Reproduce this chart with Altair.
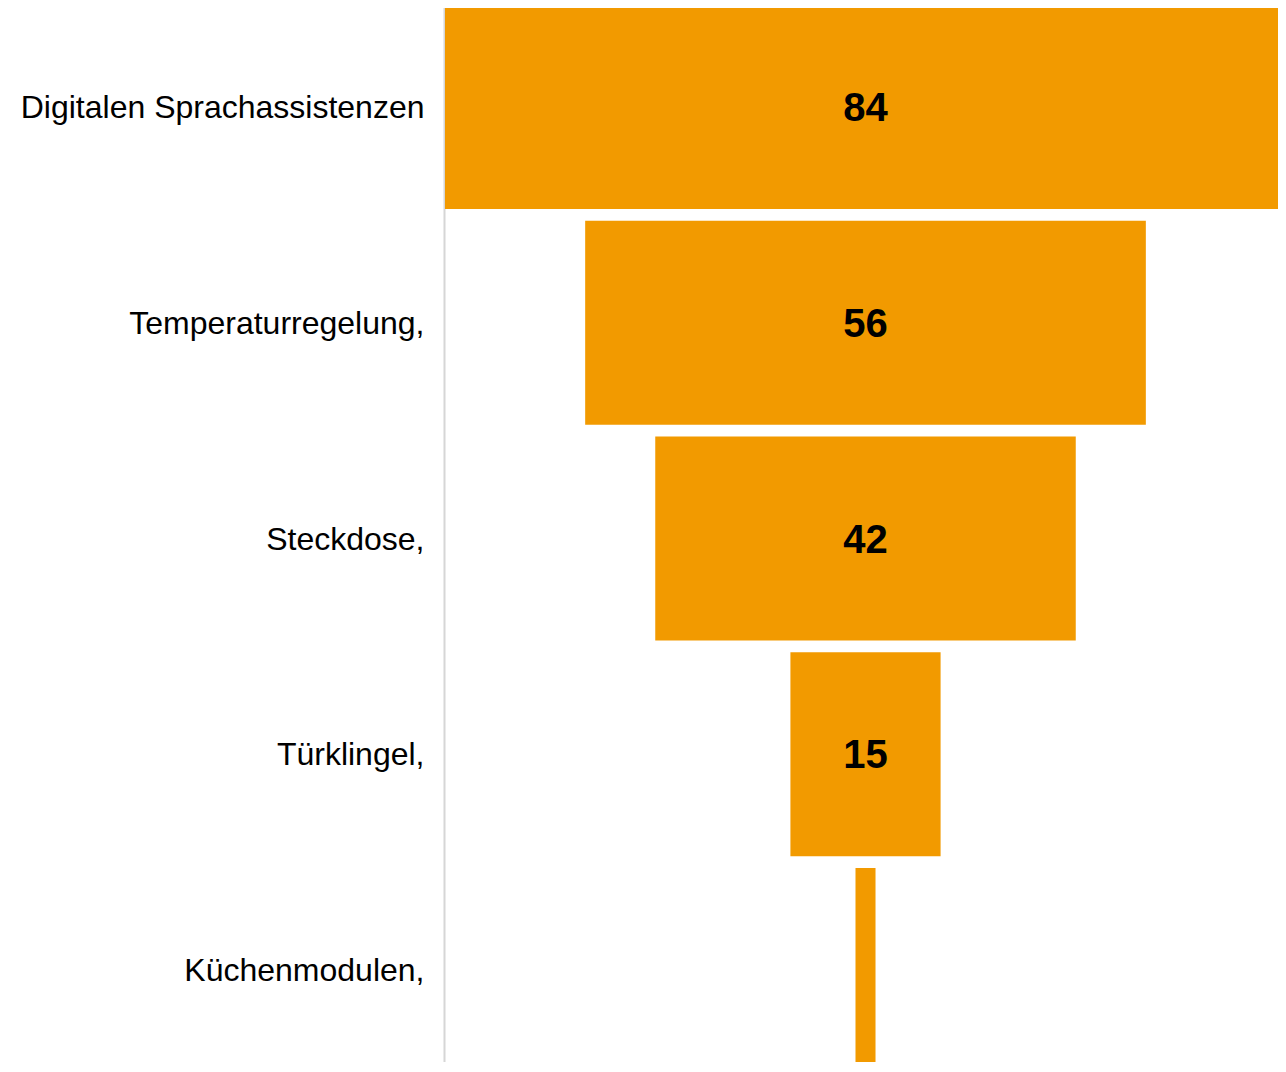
import altair as alt
import pandas as pd

categories = ["Digitalen Sprachassistenzen", "Temperaturregelung,", "Steckdose,", "Türklingel,", "Küchenmodulen,"]
values = [84, 56, 42, 15, 2]

df = pd.DataFrame({"category": categories, "value": values})
df["lo"] = -df["value"] / 2
df["hi"] = df["value"] / 2
df["label"] = [str(v) if v >= 10 else "" for v in values]

y_scale = alt.Scale(paddingInner=0.0545, paddingOuter=0, range=[-3, 1064])

y_enc = alt.Y(
    "category:N",
    sort=categories,
    title=None,
    scale=y_scale,
    axis=alt.Axis(
        labelFontSize=32,
        labelFont="Liberation Sans",
        labelColor="#000000",
        labelPadding=20,
        labelLimit=600,
        labelOffset=1,
        ticks=False,
        grid=False,
        domainColor="#d6d6d6",
        domainWidth=2,
        offset=1,
    ),
)

x_scale = alt.Scale(domain=[-42, 41.2], nice=False, zero=False)

bars = alt.Chart(df).mark_bar(color="#f29a00", clip=True).encode(
    y=y_enc,
    x=alt.X("lo:Q", scale=x_scale, axis=None),
    x2="hi:Q",
)

text = alt.Chart(df).mark_text(
    font="Liberation Sans", fontSize=40, fontWeight="bold", color="#000000",
    align="center", baseline="middle", dy=2,
).encode(
    y=alt.Y("category:N", sort=categories),
    x=alt.X("zero:Q"),
    text="label:N",
).transform_calculate(zero="0")

chart = (
    alt.layer(bars, text)
    .properties(
        width=833,
        height=1054,
        autosize=alt.AutoSizeParams(type="none"),
        padding={"left": 437, "top": 0, "right": 0, "bottom": 0},
    )
    .configure_view(stroke=None)
)

chart.save("out.html", embed_options={"renderer": "svg", "actions": False})
